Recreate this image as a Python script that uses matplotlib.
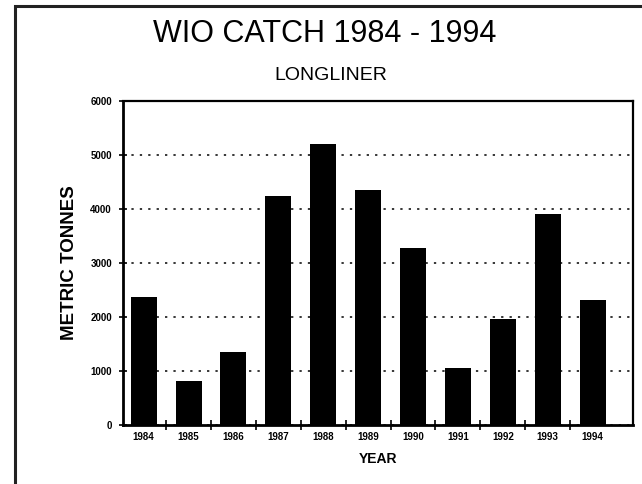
import matplotlib
matplotlib.use('Agg')

import matplotlib.pyplot as plt
from matplotlib.patches import Rectangle

# data
years = ['1984', '1985', '1986', '1987', '1988', '1989',
         '1990', '1991', '1992', '1993', '1994']
catch_tonnes = [2370, 810, 1350, 4240, 5200, 4350,
                3280, 1050, 1960, 3900, 2310]
y_ticks = [0, 1000, 2000, 3000, 4000, 5000, 6000]


def main():
    plt.rcParams['font.family'] = ['Liberation Sans', 'DejaVu Sans']

    fig = plt.figure(figsize=(6.42, 4.84), dpi=100)
    ax = fig.add_axes([0.1916, 0.1219, 0.7944, 0.6694])

    # outer frame of the scanned page (only top/left visible)
    fig.patches.append(Rectangle((15 / 642, -0.1), 1.2, 1.1 - 6 / 484,
                                 transform=fig.transFigure, fill=False,
                                 edgecolor='#222222', linewidth=2.2))

    x = list(range(len(years)))
    ax.bar(x, catch_tonnes, width=0.58, color='black', zorder=3)

    ax.set_xlim(-0.46, 10.9)
    ax.set_ylim(0, 6000)

    ax.set_yticks(y_ticks)
    ax.set_yticklabels([str(v) for v in y_ticks], fontsize=7,
                       fontweight='bold')
    ax.set_xticks(x)
    ax.set_xticklabels(years, fontsize=7, fontweight='bold')
    ax.set_xticks([i + 0.5 for i in x[:-1]], minor=True)

    ax.tick_params(axis='x', which='major', length=0, pad=5)
    ax.tick_params(axis='x', which='minor', length=7, width=1.2,
                   direction='inout')
    ax.tick_params(axis='y', which='major', length=6, width=1.2,
                   direction='inout', pad=5)

    ax.grid(axis='y', linestyle=(0, (1.5, 4)), color='black',
            linewidth=1.1, zorder=1)
    for s in ['left', 'bottom']:
        ax.spines[s].set_linewidth(2.0)
    for s in ['top', 'right']:
        ax.spines[s].set_linewidth(1.6)

    ax.set_ylabel('METRIC TONNES', fontsize=13.5, fontweight='bold',
                  labelpad=9)
    ax.set_xlabel('YEAR', fontsize=10, fontweight='bold', labelpad=7)

    fig.text(0.505, 0.93, 'WIO CATCH 1984 - 1994', ha='center',
             va='center', fontsize=22)
    fig.text(0.515, 0.845, 'LONGLINER', ha='center', va='center',
             fontsize=14)

    plt.savefig('out.png', dpi=100)


if __name__ == '__main__':
    main()
